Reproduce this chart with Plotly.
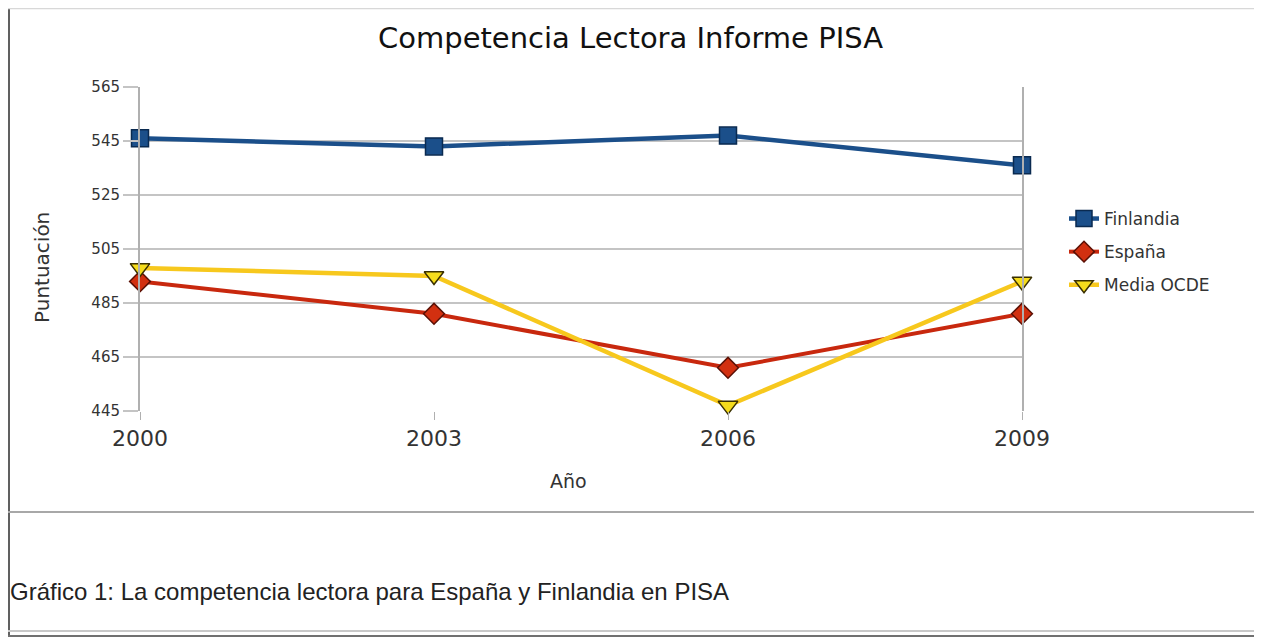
import plotly.graph_objects as go

years = [2000, 2003, 2006, 2009]
finlandia = [546, 543, 547, 536]
espana = [493, 481, 461, 481]
media_ocde = [498, 495, 447, 493]
y_ticks = [445, 465, 485, 505, 525, 545, 565]

OFF = 8  # page body margin
W, H = 1262 - OFF, 637 - OFF
L, R, T, B = 140, 1022, 87, 411  # plot area in screenshot pixels

def px(x):
    return (x - L) / (R - L)

def py(y):
    return (B - y) / (B - T)

fig = go.Figure()
fig.add_trace(go.Scatter(
    x=years, y=finlandia, name="Finlandia", mode="lines+markers", legendgroup="a", cliponaxis=False,
    line=dict(color="#1b4f8a", width=4.5),
    marker=dict(symbol="square", size=17, color="#1b4f8a", line=dict(color="#0a2a50", width=1.5)),
))
fig.add_trace(go.Scatter(
    x=years, y=espana, name="España", mode="lines+markers", legendgroup="b", cliponaxis=False,
    line=dict(color="#c8280e", width=4),
    marker=dict(symbol="diamond", size=16, color="#d23010", line=dict(color="#5a1005", width=1.5)),
))
fig.add_trace(go.Scatter(
    x=years, y=media_ocde, name="Media OCDE", mode="lines+markers", legendgroup="c", cliponaxis=False,
    line=dict(color="#f7c81d", width=4.5),
    marker=dict(symbol="triangle-down", size=17, color="#f5dc1c", line=dict(color="#3a3000", width=1.5)),
))

shapes = [
    dict(type="line", xref="paper", yref="paper", x0=px(9), x1=px(9), y0=py(8), y1=py(637),
         line=dict(color="#606060", width=2)),
    dict(type="line", xref="paper", yref="paper", x0=px(8), x1=px(1258), y0=py(8.5), y1=py(8.5),
         line=dict(color="#d8d8d8", width=1.5)),
    dict(type="line", xref="paper", yref="paper", x0=px(1257), x1=px(1257), y0=py(8), y1=py(512),
         line=dict(color="#a8a8a8", width=2)),
    dict(type="line", xref="paper", yref="paper", x0=px(8), x1=px(1258), y0=py(512), y1=py(512),
         line=dict(color="#a8a8a8", width=2)),
    dict(type="line", xref="paper", yref="paper", x0=px(8), x1=px(1262), y0=py(631), y1=py(631),
         line=dict(color="#c8c8c8", width=2)),
    dict(type="line", xref="paper", yref="paper", x0=px(8), x1=px(1262), y0=py(636), y1=py(636),
         line=dict(color="#707070", width=2)),
]

annotations = [
    dict(text="Competencia Lectora Informe PISA", xref="paper", yref="paper",
         x=px(630), y=py(38), xanchor="center", yanchor="middle", showarrow=False,
         font=dict(family="DejaVu Sans", size=29, color="#111111")),
    dict(text="Gráfico 1: La competencia lectora para España y Finlandia en PISA", xref="paper", yref="paper",
         x=px(8), y=py(591), xanchor="left", yanchor="middle", showarrow=False,
         font=dict(family="Liberation Sans, Arial", size=24, color="#222222")),
    dict(text="Puntuación", xref="paper", yref="paper", textangle=-90,
         x=px(42), y=py(268), xanchor="center", yanchor="middle", showarrow=False,
         font=dict(family="DejaVu Sans", size=20, color="#333333")),
    dict(text="Año", xref="paper", yref="paper",
         x=px(568), y=py(481), xanchor="center", yanchor="middle", showarrow=False,
         font=dict(family="DejaVu Sans", size=19, color="#333333")),
]

fig.update_layout(
    width=W, height=H,
    margin=dict(l=L - OFF, r=W - (R - OFF), t=T - OFF, b=H - (B - OFF), pad=0),
    paper_bgcolor="white", plot_bgcolor="white",
    showlegend=True,
    legend=dict(x=px(1064), y=py(201), xanchor="left", yanchor="top",
                font=dict(family="DejaVu Sans", size=17, color="#333333"),
                tracegroupgap=8, itemwidth=30, bgcolor="rgba(0,0,0,0)"),
    shapes=shapes,
    annotations=annotations,
    xaxis=dict(range=[2000, 2009], tickmode="array", tickvals=years, ticktext=[str(y) for y in years],
               showgrid=False, zeroline=False, showline=False,
               ticks="outside", ticklen=8, tickcolor="#b0b0b0", tickwidth=1,
               tickfont=dict(family="DejaVu Sans", size=22, color="#333333")),
    yaxis=dict(range=[445, 565], tickmode="array", tickvals=y_ticks,
               showgrid=True, gridcolor="#c4c4c4", gridwidth=2, zeroline=False,
               showline=True, linecolor="#b0b0b0", linewidth=2, mirror=True,
               ticks="outside", ticklen=15, tickcolor="#c4c4c4", tickwidth=2,
               tickfont=dict(family="DejaVu Sans", size=15, color="#333333")),
)

fig.write_html("out.html")
